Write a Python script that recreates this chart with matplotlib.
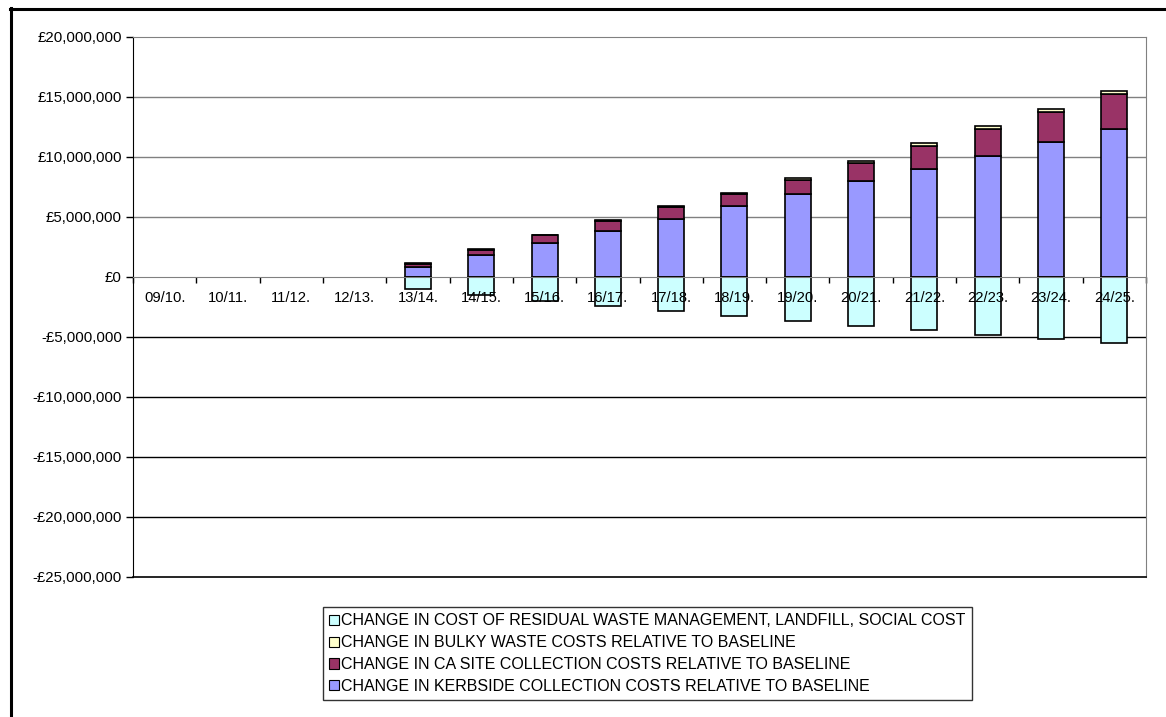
import numpy as np
import matplotlib.pyplot as plt
from matplotlib.lines import Line2D
from matplotlib.patches import Patch
from matplotlib.ticker import FuncFormatter, FixedLocator

plt.rcParams['font.family'] = ['Liberation Sans', 'DejaVu Sans']

# Financial years
years = ['09/10.', '10/11.', '11/12.', '12/13.', '13/14.', '14/15.', '15/16.', '16/17.',
         '17/18.', '18/19.', '19/20.', '20/21.', '21/22.', '22/23.', '23/24.', '24/25.']

# Cost changes in £ millions (stacked: kerbside, CA site, bulky; residual is negative)
kerbside = [0, 0, 0, 0, 0.87, 1.86, 2.86, 3.83, 4.83, 5.89, 6.92, 7.97, 9.03, 10.11, 11.25, 12.36]
ca_site = [0, 0, 0, 0, 0.21, 0.42, 0.61, 0.82, 1.00, 1.05, 1.20, 1.56, 1.91, 2.25, 2.53, 2.86]
bulky = [0, 0, 0, 0, 0.05, 0.06, 0.07, 0.08, 0.09, 0.10, 0.11, 0.14, 0.20, 0.22, 0.22, 0.25]
residual = [0, 0, 0, 0, -1.00, -1.50, -1.97, -2.44, -2.87, -3.28, -3.69, -4.08, -4.44, -4.81,
            -5.17, -5.50]

labels = ['CHANGE IN COST OF RESIDUAL WASTE MANAGEMENT, LANDFILL, SOCIAL COST',
          'CHANGE IN BULKY WASTE COSTS RELATIVE TO BASELINE',
          'CHANGE IN CA SITE COLLECTION COSTS RELATIVE TO BASELINE',
          'CHANGE IN KERBSIDE COLLECTION COSTS RELATIVE TO BASELINE']
colors = ['#CCFFFF', '#FFFFCC', '#993366', '#9999FF']

y_ticks = [20, 15, 10, 5, 0, -5, -10, -15, -20, -25]

W, H = 1166, 717
fig = plt.figure(figsize=(W / 100, H / 100), dpi=100)
fig.patch.set_facecolor('white')
ax = fig.add_axes([133 / W, 1 - 577 / H, (1146 - 133) / W, (577 - 37) / H])

x = np.arange(len(years))
kb = np.array(kerbside) * 1e6
ca = np.array(ca_site) * 1e6
bw = np.array(bulky) * 1e6
rs = np.array(residual) * 1e6
width = 0.41
edge = dict(edgecolor='black', linewidth=1.2, zorder=3)
show = kb != 0
ax.bar(x[show], kb[show], width, color=colors[3], **edge)
ax.bar(x[show], ca[show], width, bottom=kb[show], color=colors[2], **edge)
ax.bar(x[show], bw[show], width, bottom=(kb + ca)[show], color=colors[1], **edge)
ax.bar(x[show], rs[show], width, color=colors[0], **edge)

ax.set_xlim(-0.5, len(years) - 0.5)
ax.set_ylim(-25e6, 20e6)

# gridlines
for v in y_ticks:
    if v in (0, -25, 20):
        continue
    ax.axhline(v * 1e6, color='#808080' if v > 0 else 'black', linewidth=1, zorder=1)

ax.yaxis.set_major_locator(FixedLocator([v * 1e6 for v in y_ticks]))


def money(v, pos):
    m = int(round(v))
    s = '£{:,}'.format(abs(m))
    return '-' + s if m < 0 else s


ax.yaxis.set_major_formatter(FuncFormatter(money))
ax.tick_params(axis='y', direction='out', length=5, width=1, color='black', labelsize=10.8, pad=3)

# category axis sits at zero
ax.spines['bottom'].set_position(('data', 0))
ax.spines['bottom'].set_color('#808080')
ax.spines['bottom'].set_zorder(4)
ax.spines['left'].set_color('black')
ax.spines['top'].set_color('#808080')
ax.spines['right'].set_color('#808080')
ax.set_xticks(np.arange(len(years) + 1) - 0.5)
ax.set_xticklabels([])
ax.tick_params(axis='x', direction='out', length=4, width=1, color='black')
for i, yr in enumerate(years):
    ax.annotate(yr, (i, 0), xytext=(0, -10), textcoords='offset points',
                ha='center', va='top', fontsize=10.6, zorder=5)
ax.axhline(-25e6, color='black', linewidth=1.2, zorder=4, clip_on=False)

handles = [Patch(facecolor=c, edgecolor='black', linewidth=0.8) for c in colors]
leg = fig.legend(handles, labels, loc='upper left', bbox_to_anchor=(323 / W, 1 - 607 / H),
                 frameon=True, fancybox=False, shadow=False, fontsize=11.5,
                 handlelength=0.6, handleheight=0.6, handletextpad=0.12,
                 labelspacing=0.43, borderpad=0.4, borderaxespad=0)
leg.get_frame().set_edgecolor('black')
leg.get_frame().set_linewidth(1)

# outer chart border
fig.add_artist(Line2D([10 / W, 1.0], [1 - 8.5 / H, 1 - 8.5 / H], color='black', linewidth=2.2,
                      transform=fig.transFigure))
fig.add_artist(Line2D([11 / W, 11 / W], [0, 1 - 7.5 / H], color='black', linewidth=2.2,
                      transform=fig.transFigure))

fig.savefig('out.png', dpi=100)
